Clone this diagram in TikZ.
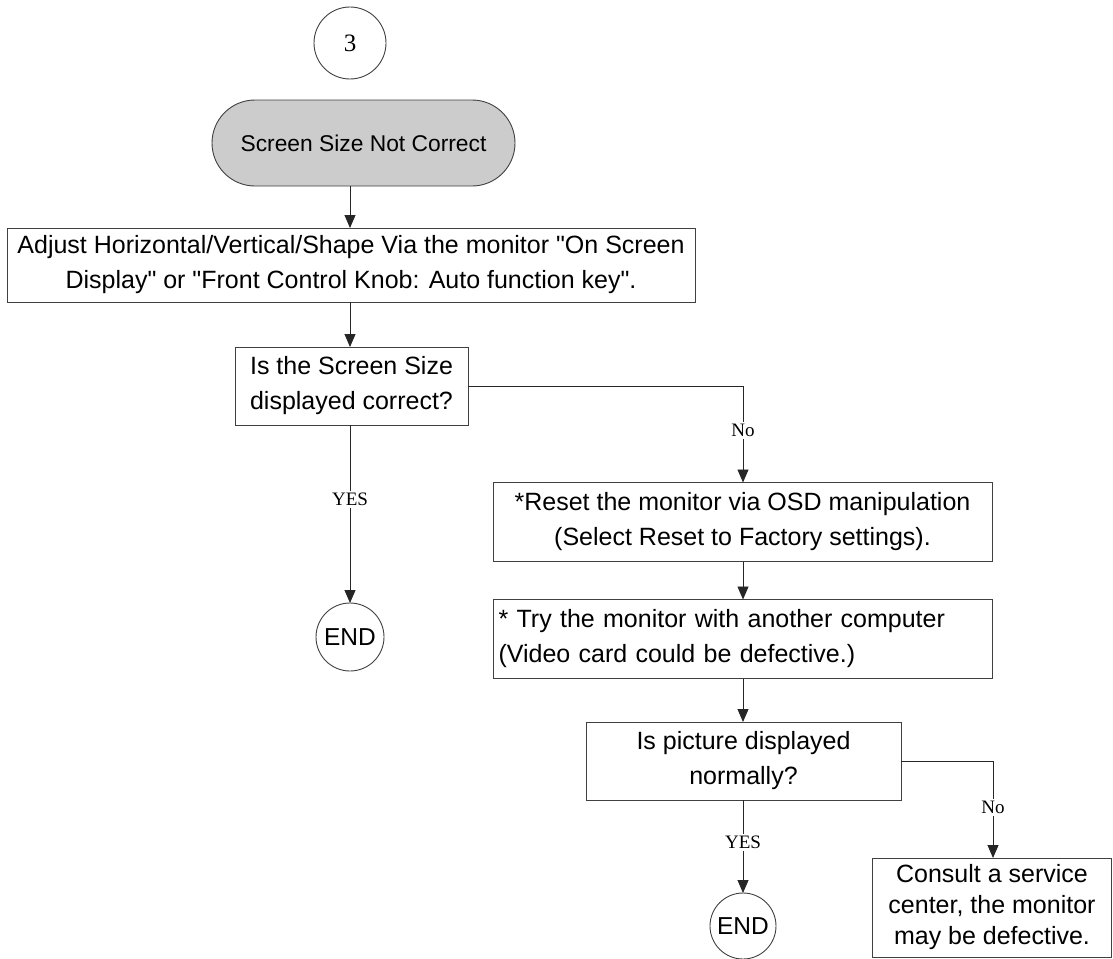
\documentclass[tikz,border=0pt]{standalone}
\usepackage{fontspec}
\setmainfont{Liberation Sans}
\newfontfamily\lblfont{Liberation Serif}
\usetikzlibrary{arrows.meta,shapes.misc}
\begin{document}
\begin{tikzpicture}[x=1pt,y=-1pt,
  every node/.style={inner sep=0pt, outer sep=0pt},
  line/.style={draw=black!85, line width=0.9pt},
  arr/.style={line, -{Triangle[length=13pt,width=11pt]}},
  box/.style={draw=black!75, line width=0.9pt, rectangle, align=center, font=\fontsize{25}{35}\selectfont},
  circ/.style={draw=black!75, line width=0.9pt, circle},
  lbl/.style={fill=white, inner sep=2pt, font=\lblfont\fontsize{19}{20}\selectfont}]
\useasboundingbox (0,0) rectangle (1113,958);
\node[circ, minimum size=72pt, font=\lblfont\fontsize{25}{26}\selectfont] (c3) at (350,43) {3};
\node[draw=black!75, line width=0.9pt, rounded rectangle, fill=black!20, minimum width=303pt, minimum height=86pt, font=\fontsize{22.8}{26}\selectfont] (start) at (363.5,143) {Screen Size Not Correct};
\node[box, minimum width=688pt, minimum height=74pt] (adj) at (351,265) {Adjust Horizontal/Vertical/Shape Via the monitor \textquotedbl On Screen\\Display\textquotedbl{} or \textquotedbl Front Control Knob: Auto function key\textquotedbl.};
\node[box, minimum width=233pt, minimum height=78pt] (d1) at (351.5,386) {Is the Screen Size\\displayed correct?};
\node[circ, minimum size=68pt, font=\fontsize{24.5}{26}\selectfont] (end1) at (350,637) {END};
\node[box, minimum width=499pt, minimum height=79pt] (reset) at (742.5,522) {*Reset the monitor via OSD manipulation\\(Select Reset to Factory settings).};
\node[box, minimum width=499pt, minimum height=79pt, align=left, text width=488pt] (try) at (742.5,639) {* Try the monitor with another computer\\(Video card could be defective.)};
\node[box, minimum width=315pt, minimum height=78pt] (d2) at (743.5,761) {Is picture displayed\\normally?};
\node[circ, minimum size=66pt, font=\fontsize{24.5}{26}\selectfont] (end2) at (743,926) {END};
\node[box, minimum width=239pt, minimum height=99pt, font=\fontsize{25}{31}\selectfont] (cons) at (992,907.5) {Consult a service\\center, the monitor\\may be defective.};
\coordinate (n1) at (743,386);
\coordinate (n2) at (993,761);
\draw[arr] (start.south -| c3) -- (adj.north -| c3);
\draw[arr] (adj.south -| c3) -- (d1.north -| c3);
\draw[arr] (d1.south -| end1) -- node[lbl, pos=0.42]{YES} (end1.north);
\draw[line] (d1.east) -- (n1);
\draw[arr] (n1) -- node[lbl, pos=0.46]{No} (reset.north -| n1);
\draw[arr] (reset.south -| n1) -- (try.north -| n1);
\draw[arr] (try.south -| n1) -- (d2.north -| n1);
\draw[arr] (d2.south -| end2) -- node[lbl, pos=0.46]{YES} (end2.north);
\draw[line] (d2.east) -- (n2);
\draw[arr] (n2) -- node[lbl, pos=0.48]{No} (cons.north -| n2);
\end{tikzpicture}
\end{document}
